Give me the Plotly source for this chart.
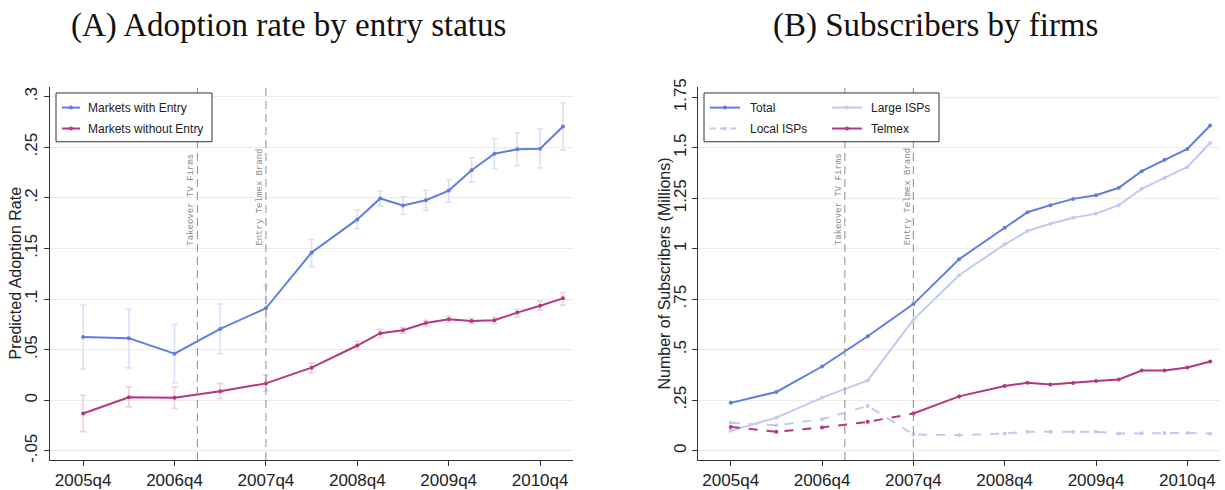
import plotly.graph_objects as go

# ---------------------------------------------------------------- data
quarters = ["2005q4", "2006q2", "2006q4", "2007q2", "2007q4", "2008q2", "2008q4",
            "2009q1", "2009q2", "2009q3", "2009q4", "2010q1", "2010q2", "2010q3",
            "2010q4", "2011q1"]
tick_quarters = ["2005q4", "2006q4", "2007q4", "2008q4", "2009q4", "2010q4"]
event_quarters = ["2007q1", "2007q4"]
event_labels = ["Takeover TV Firms", "Entry Telmex Brand"]

# Panel A: predicted adoption rate with confidence bounds
entry_mean = [0.0624, 0.0614, 0.046, 0.0705, 0.0909, 0.146, 0.1787, 0.1994, 0.1925,
              0.1977, 0.2072, 0.2272, 0.2436, 0.2479, 0.2485, 0.2705]
entry_hi = [0.094, 0.090, 0.075, 0.095, 0.113, 0.159, 0.188, 0.2066, 0.201,
            0.2075, 0.218, 0.2394, 0.2584, 0.264, 0.268, 0.294]
entry_lo = [0.031, 0.032, 0.017, 0.046, 0.068, 0.132, 0.1696, 0.1918, 0.1836,
            0.1876, 0.196, 0.2154, 0.2289, 0.2318, 0.2296, 0.247]
noentry_mean = [-0.0131, 0.003, 0.0024, 0.0089, 0.0167, 0.0322, 0.0541, 0.0663, 0.0692,
                0.0764, 0.080, 0.0784, 0.079, 0.0866, 0.0934, 0.1007]
noentry_hi = [0.005, 0.013, 0.013, 0.0167, 0.0246, 0.037, 0.058, 0.070, 0.072,
              0.079, 0.083, 0.081, 0.082, 0.090, 0.098, 0.1065]
noentry_lo = [-0.031, -0.0065, -0.008, 0.0017, 0.0092, 0.027, 0.050, 0.062, 0.066,
              0.073, 0.077, 0.076, 0.076, 0.082, 0.089, 0.094]

# Panel B: subscribers (millions)
total = [0.237, 0.291, 0.417, 0.567, 0.726, 0.948, 1.104, 1.181, 1.216, 1.247, 1.265,
         1.302, 1.384, 1.441, 1.494, 1.610]
large_isps = [0.099, 0.164, 0.263, 0.348, 0.649, 0.869, 1.022, 1.088, 1.124, 1.154,
              1.174, 1.216, 1.297, 1.351, 1.405, 1.524]
local_isps = [0.138, 0.126, 0.156, 0.222, 0.080, 0.077, 0.085, 0.094, 0.094, 0.094,
              0.094, 0.085, 0.087, 0.088, 0.088, 0.085]
telmex = [0.118, 0.094, 0.115, 0.143, 0.184, 0.269, 0.320, 0.337, 0.328, 0.335, 0.345,
          0.353, 0.397, 0.397, 0.412, 0.442]

yticks_a = [-0.05, 0, 0.05, 0.1, 0.15, 0.2, 0.25, 0.3]
yticklabels_a = ["-.05", "0", ".05", ".1", ".15", ".2", ".25", ".3"]
yticks_b = [0, 0.25, 0.5, 0.75, 1, 1.25, 1.5, 1.75]
yticklabels_b = ["0", ".25", ".5", ".75", "1", "1.25", "1.5", "1.75"]

# ---------------------------------------------------------------- styling
W, H = 1225, 490
PLOT_TOP, PLOT_BOT = 87, 461.7
BLUE = "#5f7fe0"
MAGENTA = "#b5377d"
LAVENDER = "#c3c9f0"
BLUE_ERR = "#dde0f6"
MAGENTA_ERR = "#f1cfdd"
AXIS = "#333333"
GRID = "#ebebeb"
SANS = "Liberation Sans, Arial, sans-serif"
SERIF = "Liberation Serif, Times New Roman, serif"
MONO = "Liberation Mono, Courier New, monospace"


def qpos(label):
    """Quarter label like '2007q2' -> quarters since 2005q4."""
    return (int(label[:4]) - 2005) * 4 + int(label[-1]) - 4


def px_x(p):
    return p / W


def px_y(p):
    return (PLOT_BOT - p) / (PLOT_BOT - PLOT_TOP)


x = [qpos(q) for q in quarters]

fig = go.Figure()


def add_series(xa, ya, y, color, width=2, dash="solid", err=None, xs=None):
    kw = {}
    if err is not None:
        hi, lo, ecolor = err
        kw["error_y"] = dict(type="data", symmetric=False,
                             array=[h - m for h, m in zip(hi, y)],
                             arrayminus=[m - l for m, l in zip(y, lo)],
                             color=ecolor, thickness=1.6, width=3)
    fig.add_trace(go.Scatter(
        x=xs if xs is not None else x, y=y, xaxis=xa, yaxis=ya,
        mode="lines+markers", showlegend=False,
        line=dict(color=color, width=width, dash=dash),
        marker=dict(color=color, size=4), **kw))


# Panel A
add_series("x", "y", entry_mean, BLUE, err=(entry_hi, entry_lo, BLUE_ERR))
add_series("x", "y", noentry_mean, MAGENTA, err=(noentry_hi, noentry_lo, MAGENTA_ERR))

# Panel B
add_series("x2", "y2", local_isps, LAVENDER, dash="dash")
add_series("x2", "y2", large_isps, LAVENDER)
add_series("x2", "y2", telmex[:5], MAGENTA, dash="dash", xs=x[:5])
add_series("x2", "y2", telmex[4:], MAGENTA, xs=x[4:])
add_series("x2", "y2", total, BLUE)

shapes = []
annotations = []

# Event markers on both panels
for xr in ("x", "x2"):
    yr = "y domain" if xr == "x" else "y2 domain"
    for q, lab in zip(event_quarters, event_labels):
        shapes.append(dict(type="line", xref=xr, yref=yr, x0=qpos(q), x1=qpos(q),
                           y0=0, y1=1, line=dict(color="#8c8c8c", width=1, dash="8px,5px")))
        annotations.append(dict(text=lab, xref=xr, yref=yr, x=qpos(q), y=px_y(247),
                                xanchor="right", yanchor="bottom", textangle=-90,
                                showarrow=False, borderpad=0, xshift=0,
                                font=dict(family=MONO, size=9, color="#8c8c8c")))


def legend_box(x0, x1, y0, y1):
    shapes.append(dict(type="rect", xref="paper", yref="paper",
                       x0=px_x(x0), x1=px_x(x1), y0=px_y(y1), y1=px_y(y0),
                       line=dict(color=AXIS, width=1), fillcolor="white", layer="above"))


def legend_item(lx0, lx1, ly, tx, name, color, dash="solid"):
    shapes.append(dict(type="line", xref="paper", yref="paper",
                       x0=px_x(lx0), x1=px_x(lx1), y0=px_y(ly), y1=px_y(ly),
                       line=dict(color=color, width=2, dash=dash), layer="above"))
    cx = (lx0 + lx1) / 2
    shapes.append(dict(type="circle", xref="paper", yref="paper",
                       x0=px_x(cx - 2), x1=px_x(cx + 2), y0=px_y(ly + 2), y1=px_y(ly - 2),
                       line=dict(width=0), fillcolor=color, layer="above"))
    annotations.append(dict(text=name, xref="paper", yref="paper", x=px_x(tx), y=px_y(ly),
                            xanchor="left", yanchor="middle", showarrow=False,
                            font=dict(family=SANS, size=12, color="#222222")))


legend_box(56, 212, 93, 142)
legend_item(62, 80, 107.7, 86, "Markets with Entry", BLUE)
legend_item(62, 80, 128.7, 86, "Markets without Entry", MAGENTA)

legend_box(704, 939, 93, 142)
legend_item(710, 740, 107.7, 748, "Total", BLUE)
legend_item(832, 862, 107.7, 869, "Large ISPs", LAVENDER)
legend_item(710, 740, 128.7, 748, "Local ISPs", LAVENDER, dash="6px,4px")
legend_item(832, 862, 128.7, 869, "Telmex", MAGENTA)

# Panel titles
for cx, txt in ((288, "(A) Adoption rate by entry status"), (936, "(B) Subscribers by firms")):
    annotations.append(dict(text=txt, xref="paper", yref="paper", x=px_x(cx), y=px_y(25),
                            xanchor="center", yanchor="middle", showarrow=False,
                            font=dict(family=SERIF, size=33, color="#111111")))

# Vertical axis titles
for cx, txt in ((15, "Predicted Adoption Rate"), (664, "Number of Subscribers (Millions)")):
    annotations.append(dict(text=txt, xref="paper", yref="paper", x=px_x(cx), y=0.5,
                            xanchor="center", yanchor="middle", textangle=-90,
                            showarrow=False,
                            font=dict(family=SANS, size=16, color="#222222")))

xaxis_common = dict(
    tickvals=[qpos(q) for q in tick_quarters], ticktext=tick_quarters,
    ticks="outside", ticklen=5, tickcolor=AXIS, showline=True, linecolor=AXIS,
    linewidth=1, showgrid=False, zeroline=False,
    tickfont=dict(family=SANS, size=17, color="#222222"))
yaxis_common = dict(
    tickangle=-90, ticks="outside", ticklen=5, tickcolor=AXIS, showline=True,
    linecolor=AXIS, linewidth=1, showgrid=True, gridcolor=GRID, gridwidth=1,
    zeroline=False, tickfont=dict(family=SANS, size=17, color="#222222"))

fig.update_layout(
    width=W, height=H, margin=dict(l=0, r=0, t=PLOT_TOP, b=H - PLOT_BOT),
    paper_bgcolor="white", plot_bgcolor="white",
    xaxis=dict(domain=[50 / W, 573 / W], range=[-1.45, 21.44], anchor="y", **xaxis_common),
    yaxis=dict(range=[-0.059, 0.3095], anchor="x", tickvals=yticks_a, ticktext=yticklabels_a,
               **yaxis_common),
    xaxis2=dict(domain=[698.3 / W, 1220 / W], range=[-1.42, 21.43], anchor="y2", **xaxis_common),
    yaxis2=dict(range=[-0.046, 1.801], anchor="x2", tickvals=yticks_b, ticktext=yticklabels_b,
                **yaxis_common),
    shapes=shapes, annotations=annotations,
)

fig.write_html("out.html")
